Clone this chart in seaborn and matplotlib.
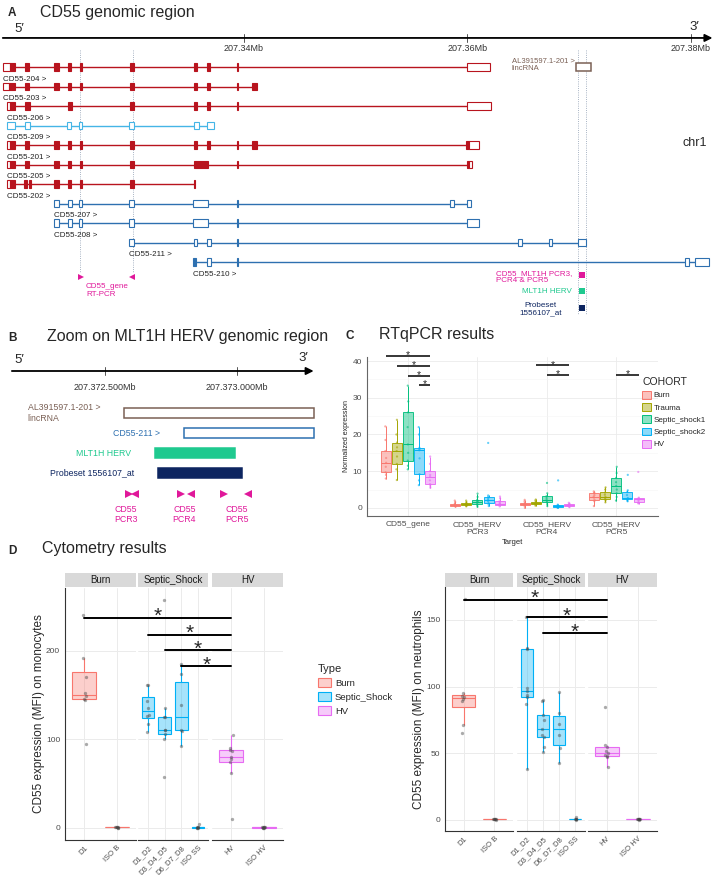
import matplotlib
matplotlib.use('Agg')
import matplotlib.pyplot as plt
import seaborn as sns
import pandas as pd
import numpy as np
from matplotlib.patches import Rectangle, Patch
from matplotlib.lines import Line2D
from matplotlib.colors import to_rgba

# ---------------- data ----------------
# Panel A: exons per transcript, kb past 207.30 Mb, (start, end, coding)
tx_names = ['CD55-204', 'CD55-203', 'CD55-206', 'CD55-209', 'CD55-201', 'CD55-205',
            'CD55-202', 'CD55-207', 'CD55-208', 'CD55-211', 'CD55-210']
tx_kind = ['red', 'red', 'red', 'sky', 'red', 'red', 'red', 'blue', 'blue', 'blue', 'blue']
tx_exons = [
    [(18.5, 19.1, 0), (19.1, 19.55, 1), (20.45, 20.8, 1), (23.05, 23.5, 1), (24.3, 24.55, 1), (25.35, 25.55, 1),
     (29.85, 30.2, 1), (35.55, 35.8, 1), (36.75, 36.95, 1), (39.4, 39.5, 1), (60.0, 62.05, 0)],
    [(18.5, 19.05, 0), (19.05, 19.55, 1), (20.45, 20.8, 1), (23.05, 23.5, 1), (24.3, 24.55, 1), (25.35, 25.55, 1),
     (29.85, 30.2, 1), (35.55, 35.8, 1), (36.75, 36.95, 1), (39.4, 39.5, 1), (40.75, 41.2, 1)],
    [(18.85, 19.1, 0), (19.1, 19.55, 1), (20.45, 20.85, 1), (24.3, 24.6, 1), (29.85, 30.2, 1), (35.55, 35.8, 1),
     (36.75, 36.95, 1), (39.4, 39.5, 1), (60.0, 62.1, 0)],
    [(18.85, 19.55, 0), (20.45, 20.85, 0), (24.2, 24.55, 0), (25.3, 25.5, 0), (29.75, 30.2, 0), (35.55, 36.0, 0),
     (36.75, 37.35, 0)],
    [(18.85, 19.1, 0), (19.1, 19.55, 1), (20.45, 20.8, 1), (23.05, 23.5, 1), (24.3, 24.55, 1), (25.35, 25.55, 1),
     (29.85, 30.2, 1), (35.55, 35.8, 1), (36.75, 36.95, 1), (39.4, 39.5, 1), (40.75, 41.2, 1), (59.9, 60.2, 1),
     (60.2, 61.05, 0)],
    [(18.85, 19.1, 0), (19.1, 19.55, 1), (20.45, 20.8, 1), (23.05, 23.5, 1), (24.3, 24.55, 1), (25.35, 25.55, 1),
     (29.85, 30.2, 1), (35.55, 36.85, 1), (39.4, 39.5, 1), (60.0, 60.15, 1), (60.15, 60.45, 0)],
    [(18.85, 19.1, 0), (19.1, 19.55, 1), (20.35, 20.6, 1), (20.8, 21.0, 1), (23.05, 23.5, 1), (24.3, 24.55, 1),
     (25.35, 25.55, 1), (29.85, 30.2, 1), (35.55, 35.65, 1)],
    [(23.05, 23.5, 0), (24.3, 24.6, 0), (25.3, 25.55, 0), (29.75, 30.2, 0), (35.5, 36.85, 0), (39.4, 39.5, 1),
     (58.5, 58.85, 0), (59.95, 60.35, 0)],
    [(23.05, 23.5, 0), (24.3, 24.6, 0), (25.3, 25.55, 0), (29.75, 30.2, 0), (35.5, 36.85, 0), (39.4, 39.5, 1),
     (59.95, 61.1, 0)],
    [(29.75, 30.2, 0), (35.55, 35.85, 0), (36.75, 37.1, 0), (39.4, 39.5, 1), (64.55, 64.9, 0), (67.35, 67.6, 0),
     (69.9, 70.65, 0)],
    [(35.5, 35.75, 1), (36.75, 37.1, 0), (39.4, 39.5, 1), (79.5, 79.85, 0), (80.4, 81.65, 0)],
]
a_ticks_kb = [40, 60, 80]
lnc_kb = (69.75, 71.05)
rtpcr_kb = [25.4, 30.1]
herv_kb = [69.9, 70.65]

# Panel B: bp past 207,372,000
b_ticks_bp = [500, 1000]
b_labels = ['AL391597.1-201 >\nlincRNA', 'CD55-211 >', 'MLT1H HERV', 'Probeset 1556107_at']
b_start = [572, 799, 689, 701]
b_end = [1292, 1292, 992, 1019]
pcr_fwd = [591, 786, 950]
pcr_rev = [612, 826, 1040]
pcr_names = ['CD55\nPCR3', 'CD55\nPCR4', 'CD55\nPCR5']

# Panel C: normalized expression, per target, cohort order below
cohorts = ['Burn', 'Trauma', 'Septic_shock1', 'Septic_shock2', 'HV']
targets = ['CD55_gene', 'CD55_HERV\nPCR3', 'CD55_HERV\nPCR4', 'CD55_HERV\nPCR5']
expr_gene = [[8.0, 9.0, 9.7, 11.2, 12.3, 13.6, 15.5, 18.5, 22.2],
             [7.6, 10.5, 12.0, 14.0, 15.5, 16.5, 17.8, 20.0, 24.0],
             [10.5, 11.5, 12.9, 15.0, 17.3, 22.0, 26.0, 29.0, 33.3],
             [6.2, 7.5, 9.2, 13.5, 15.7, 16.0, 16.4, 20.0, 22.0],
             [5.5, 6.0, 6.5, 7.5, 8.5, 9.0, 10.0, 12.0, 14.0]]
expr_pcr3 = [[0.3, 0.5, 0.6, 0.8, 0.9, 1.0, 1.2, 1.6, 2.0],
             [0.4, 0.6, 0.7, 0.9, 1.0, 1.1, 1.3, 1.6, 2.0],
             [0.3, 0.7, 1.0, 1.4, 1.7, 1.9, 2.2, 3.0, 3.9],
             [0.5, 1.0, 1.3, 1.8, 2.2, 2.6, 3.0, 3.4, 17.7],
             [0.4, 0.7, 0.9, 1.0, 1.2, 1.5, 1.8, 2.6, 3.1]]
expr_pcr4 = [[0.0, 0.5, 0.7, 0.9, 1.0, 1.2, 1.4, 1.8, 2.2],
             [0.6, 0.9, 1.0, 1.2, 1.4, 1.5, 1.7, 2.0, 2.3],
             [0.5, 1.0, 1.5, 1.9, 2.2, 2.7, 3.2, 4.0, 6.8],
             [0.0, 0.1, 0.2, 0.4, 0.5, 0.6, 0.7, 0.9, 7.5],
             [0.2, 0.4, 0.5, 0.7, 0.8, 0.9, 1.0, 1.2, 1.4]]
expr_pcr5 = [[0.5, 1.8, 2.2, 2.8, 3.1, 3.5, 4.0, 4.2, 4.5],
             [1.5, 2.0, 2.3, 2.7, 3.0, 3.6, 4.2, 5.0, 5.6],
             [2.0, 3.0, 4.0, 5.0, 6.0, 7.0, 8.2, 9.5, 11.2],
             [1.8, 2.0, 2.3, 2.5, 2.7, 3.5, 4.3, 4.8, 9.0],
             [1.2, 1.4, 1.5, 2.0, 2.3, 2.4, 2.6, 2.8, 9.8]]
# significance bars: (target index, from cohort, to cohort, height)
c_sig = [(0, 'Burn', 'HV', 41.4), (0, 'Trauma', 'HV', 38.7), (0, 'Septic_shock1', 'HV', 36.0),
         (0, 'Septic_shock2', 'HV', 33.5), (2, 'Trauma', 'HV', 38.9), (2, 'Septic_shock1', 'HV', 36.2),
         (3, 'Septic_shock1', 'HV', 36.2)]

# Panel D: CD55 MFI by cytometry
facets = ['Burn', 'Septic_Shock', 'HV']
facet_days = [['D1', 'ISO B'], ['D1_D2', 'D3_D4_D5', 'D6_D7_D8', 'ISO SS'], ['HV', 'ISO HV']]
mono_mfi = {
    'D1': [95, 144, 146, 149, 152, 171, 192, 240],
    'ISO B': [0.3, 0.6, 0.8, 1.0, 0.5, 0.7, 0.9],
    'D1_D2': [108, 117, 126, 128, 136, 143, 161, 161],
    'D3_D4_D5': [57, 101, 106, 111, 111, 125, 125, 135, 257],
    'D6_D7_D8': [92, 110, 111, 139, 174, 185],
    'ISO SS': [0.2, 0.5, 0.8, 1.0, 0.4, 4.0, 0.6],
    'HV': [10, 62, 75, 78, 80, 87, 88, 90, 105],
    'ISO HV': [0.3, 0.5, 0.7, 0.9, 0.6, 0.4, 0.8, 1.0],
}
neutro_mfi = {
    'D1': [65, 71.5, 89, 91, 92, 93, 95, 166],
    'ISO B': [0.3, 0.6, 0.8, 1.0, 0.5, 0.7, 0.9],
    'D1_D2': [38.5, 87, 92, 94, 97, 99, 128, 129, 152],
    'D3_D4_D5': [51, 55, 62, 64, 68, 75, 79, 89, 90],
    'D6_D7_D8': [43, 54, 64, 72, 80, 96],
    'ISO SS': [0.2, 0.5, 0.8, 2.5, 0.4, 0.6],
    'HV': [40, 47, 48, 49, 50, 52, 55, 56, 85],
    'ISO HV': [0.3, 0.5, 0.7, 0.9, 0.6, 0.4, 0.8, 1.0],
}
# (facet, day) -> HV, height
mono_sig = [((0, 'D1'), 237), ((1, 'D1_D2'), 218), ((1, 'D3_D4_D5'), 200.5), ((1, 'D6_D7_D8'), 182.5)]
neutro_sig = [((0, 'D1'), 165), ((1, 'D1_D2'), 152), ((1, 'D3_D4_D5'), 140)]

# ---------------- style ----------------
sns.set_theme(style='white')
plt.rcParams['font.family'] = ['Liberation Sans', 'DejaVu Sans']
np.random.seed(3)

red, sky, blue = '#b8141e', '#45b5e6', '#2e70b0'
tx_colors = {'red': red, 'sky': sky, 'blue': blue}
brown, magenta, green, navy = '#7a6055', '#e0189a', '#1fc98f', '#0d2560'
cohort_colors = dict(zip(cohorts, ['#F8766D', '#A3A500', '#00BF7D', '#00B0F6', '#E76BF3']))
type_colors = {'Burn': '#F8766D', 'Septic_Shock': '#00B0F6', 'HV': '#E76BF3'}
tick_grey = '#4d4d4d'

W, H = 713, 875
fig = plt.figure(figsize=(W / 100, H / 100), dpi=100)


def px_axes(x0, y0, x1, y1):
    return fig.add_axes([x0 / W, 1 - y1 / H, (x1 - x0) / W, (y1 - y0) / H])


def ftext(x, y, s, **kw):
    return fig.text(x / W, 1 - y / H, s, **kw)


# ---------------- A: CD55 genomic region ----------------
ftext(8, 13, 'A', fontsize=8.5, fontweight='bold', va='center')
ftext(40, 12, 'CD55 genomic region', fontsize=11.5, va='center')
ftext(14, 29, '5\u2032', fontsize=9.5, va='center')
ftext(689, 27, '3\u2032', fontsize=9.5, va='center')

ax_a = px_axes(0, 0, W, 330)
ax_a.set_xlim(18.2, 82.0)
ax_a.set_ylim((330 - 67) / 19.5, -67 / 19.5)
ax_a.axis('off')

ax_a.annotate('', xy=(81.95, -1.49), xytext=(18.45, -1.49),
              arrowprops=dict(arrowstyle='-|>', color='black', lw=1.3, mutation_scale=11, shrinkA=0, shrinkB=0))
for t in a_ticks_kb:
    ax_a.plot([t, t], [-1.68, -1.3], color='#555555', lw=0.7)
    ax_a.text(t, -0.97, f'{207.30 + t / 1000:.2f}Mb', ha='center', va='center', fontsize=6.5, color='#333333')

for x in rtpcr_kb:
    ax_a.plot([x, x], [-0.85, 10.5], color='#8a9ab0', lw=0.6, ls=':', zorder=0)
for x in herv_kb:
    ax_a.plot([x, x], [-0.85, 12.7], color='#8a9ab0', lw=0.6, ls=':', zorder=0)

for r, (name, kind, exons) in enumerate(zip(tx_names, tx_kind, tx_exons)):
    col = tx_colors[kind]
    ax_a.plot([exons[0][0], exons[-1][1]], [r, r], color=col, lw=1.0, zorder=1, solid_capstyle='butt')
    for s, e, coding in exons:
        ax_a.add_patch(Rectangle((s, r - 0.18), e - s, 0.36, facecolor=col if coding else 'white',
                                 edgecolor=col, lw=0.8, zorder=2))
    ax_a.text(exons[0][0] - 0.05, r + 0.62, name + ' >', fontsize=5.8, color='#222222', ha='left', va='center')

ax_a.add_patch(Rectangle((lnc_kb[0], -0.18), lnc_kb[1] - lnc_kb[0], 0.36, facecolor='white',
                         edgecolor=brown, lw=1.1, zorder=2))
ax_a.text(64.0, -0.48, 'AL391597.1-201 >\nlincRNA', fontsize=5.5, color=brown, ha='left', va='top', linespacing=1.15)
ax_a.text(79.3, 3.9, 'chr1', fontsize=9, ha='left', va='center')

ax_a.plot(rtpcr_kb[0] + 0.05, 10.77, marker='>', ms=5, color=magenta, mew=0)
ax_a.plot(rtpcr_kb[1] - 0.05, 10.77, marker='<', ms=5, color=magenta, mew=0)
ax_a.text(25.9, 11.1, 'CD55_gene\nRT-PCR', fontsize=5.8, color=magenta, ha='left', va='top', linespacing=1.1)

sq_x = sum(herv_kb) / 2
for yy, col in zip([10.67, 11.49, 12.36], [magenta, green, navy]):
    ax_a.plot(sq_x, yy, marker='s', ms=5, color=col, mew=0)
ax_a.text(69.4, 10.4, 'CD55_MLT1H PCR3,\nPCR4 & PCR5', fontsize=5.8, color=magenta, ha='right', va='top',
          multialignment='left', linespacing=1.1)
ax_a.text(69.4, 11.49, 'MLT1H HERV', fontsize=5.8, color=green, ha='right', va='center')
ax_a.text(66.6, 12.05, 'Probeset\n1556107_at', fontsize=5.8, color=navy, ha='center', va='top', linespacing=1.1)

# ---------------- B: zoom on MLT1H HERV ----------------
ftext(8, 338, 'B', fontsize=8.5, fontweight='bold', va='center')
ftext(47, 336, 'Zoom on MLT1H HERV genomic region', fontsize=11.5, va='center')
ftext(14, 360, '5\u2032', fontsize=9.5, va='center')
ftext(298, 358, '3\u2032', fontsize=9.5, va='center')

ax_b = px_axes(0, 330, 330, 535)
ax_b.set_xlim(102, 1352)
ax_b.set_ylim((535 - 413) / 20, (330 - 413) / 20)
ax_b.axis('off')
ax_b.annotate('', xy=(1290, -2.1), xytext=(147, -2.1),
              arrowprops=dict(arrowstyle='-|>', color='black', lw=1.3, mutation_scale=11, shrinkA=0, shrinkB=0))
for t in b_ticks_bp:
    ax_b.plot([t, t], [-2.28, -1.92], color='#555555', lw=0.7)
    ax_b.text(t, -1.25, f'{207372000 + t:,}'.replace(',', '.') + 'Mb', ha='center', va='center',
              fontsize=6.5, color='#333333')

b_edge = [brown, blue, green, navy]
b_fill = ['white', 'white', green, navy]
b_text = [brown, blue, green, navy]
for r, (lab, s, e) in enumerate(zip(b_labels, b_start, b_end)):
    ax_b.add_patch(Rectangle((s, r - 0.25), e - s, 0.5, facecolor=b_fill[r], edgecolor=b_edge[r], lw=1.1))
    ax_b.text(s - 90, r, lab, fontsize=6.3, color=b_text[r], ha='right', va='center', multialignment='left',
              linespacing=1.15)
for f, rv in zip(pcr_fwd, pcr_rev):
    ax_b.plot(f, 4.05, marker='>', ms=5.5, color=magenta, mew=0)
    ax_b.plot(rv, 4.05, marker='<', ms=5.5, color=magenta, mew=0)
for lab, xx in zip(pcr_names, [578, 800, 1000]):
    ax_b.text(xx, 4.6, lab, fontsize=6.3, color=magenta, ha='center', va='top', linespacing=1.15)

# ---------------- C: RTqPCR ----------------
ftext(346, 336, 'C', fontsize=8.5, fontweight='bold', va='center')
ftext(379, 334, 'RTqPCR results', fontsize=11.5, va='center')

rows = []
for t, groups in zip(targets, [expr_gene, expr_pcr3, expr_pcr4, expr_pcr5]):
    for c, vals in zip(cohorts, groups):
        for v in vals:
            rows.append((t, c, v))
df_c = pd.DataFrame(rows, columns=['Target', 'COHORT', 'Expression'])

ax_c = px_axes(367, 357, 658, 516)
for c in cohorts:
    n0 = len(ax_c.patches)
    sns.boxplot(data=df_c[df_c.COHORT == c], x='Target', y='Expression', hue='COHORT', hue_order=cohorts,
                order=targets, palette=cohort_colors, dodge=True, width=0.8, gap=0.1, linewidth=0.7,
                linecolor=cohort_colors[c], showfliers=False, showcaps=False, saturation=1, legend=False, ax=ax_c)
    for p in ax_c.patches[n0:]:
        p.set_facecolor(to_rgba(cohort_colors[c], 0.45))
        p.set_edgecolor(to_rgba(cohort_colors[c], 0.9))
sns.stripplot(data=df_c, x='Target', y='Expression', hue='COHORT', hue_order=cohorts, order=targets,
              palette=cohort_colors, dodge=True, jitter=0.035, size=1.6, alpha=0.6, legend=False, ax=ax_c)
ax_c.set_xlim(-0.59, 3.6)
ax_c.set_ylim(-2.2, 41.1)
ax_c.set_yticks([0, 10, 20, 30, 40])
ax_c.set_yticks([5, 15, 25, 35], minor=True)
ax_c.grid(True, which='major', color='#ebebeb', lw=0.6)
ax_c.grid(True, which='minor', axis='y', color='#f5f5f5', lw=0.4)
ax_c.set_axisbelow(True)
ax_c.tick_params(axis='both', which='major', labelsize=6, colors=tick_grey, length=2, width=0.5, pad=1.5)
ax_c.tick_params(which='minor', length=0)
for side in ['top', 'right']:
    ax_c.spines[side].set_visible(False)
for side in ['left', 'bottom']:
    ax_c.spines[side].set_color('#666666')
    ax_c.spines[side].set_linewidth(0.8)
ax_c.set_xlabel('Target', fontsize=5.5, labelpad=2)
ax_c.set_ylabel('Normalized expression', fontsize=5, labelpad=2)

slot = 0.8 / len(cohorts)
for ti, c0, c1, y in c_sig:
    x0 = ti + (cohorts.index(c0) - 2) * slot
    x1 = ti + (cohorts.index(c1) - 2) * slot
    ax_c.plot([x0, x1], [y, y], color='black', lw=1.1, clip_on=False, solid_capstyle='butt')
    ax_c.annotate('*', xy=((x0 + x1) / 2, y), xytext=(0, -1.8), textcoords='offset points',
                  ha='center', va='baseline', fontsize=7.5, annotation_clip=False)

c_handles = [Patch(facecolor=to_rgba(cohort_colors[c], 0.45), edgecolor=cohort_colors[c], lw=0.7) for c in cohorts]
fig.legend(c_handles, cohorts, title='COHORT', loc='upper left', bbox_to_anchor=(639 / W, 1 - 374 / H),
           frameon=False, fontsize=5.8, title_fontsize=7.5, handlelength=1.1, handleheight=1.1,
           labelspacing=0.45, handletextpad=0.3, borderaxespad=0, alignment='left')

# ---------------- D: cytometry ----------------
ftext(8, 551, 'D', fontsize=8.5, fontweight='bold', va='center')
ftext(42, 549, 'Cytometry results', fontsize=11.5, va='center')


def facet_panel(xs, y0, y1, values, ylim, yticks, ylabel):
    axes = []
    for k, (facet, days, (x0, x1)) in enumerate(zip(facets, facet_days, xs)):
        sub = pd.DataFrame([(d, v) for d in days for v in values[d]], columns=['Day', 'MFI'])
        ax = px_axes(x0, y0, x1, y1)
        col = type_colors[facet]
        sns.boxplot(data=sub, x='Day', y='MFI', order=days, color=col, linecolor=col, width=0.75,
                    linewidth=0.8, showfliers=False, showcaps=False, saturation=1, ax=ax)
        for p in ax.patches:
            p.set_facecolor(to_rgba(col, 0.35))
        sns.stripplot(data=sub, x='Day', y='MFI', order=days, color='#444444', alpha=0.45, size=2.4,
                      jitter=0.06, ax=ax)
        ax.set_xlim(-0.6, len(days) - 0.4)
        ax.set_ylim(*ylim)
        ax.set_yticks(yticks)
        ax.grid(True, color='#ebebeb', lw=0.7)
        ax.set_axisbelow(True)
        ax.set_xlabel('')
        ax.tick_params(axis='x', labelsize=5.5, colors=tick_grey, length=2, width=0.5, pad=1)
        for lbl in ax.get_xticklabels():
            lbl.set_rotation(45)
            lbl.set_ha('right')
            lbl.set_rotation_mode('anchor')
        for side in ['top', 'right', 'left']:
            ax.spines[side].set_visible(False)
        ax.spines['bottom'].set_color('#333333')
        ax.spines['bottom'].set_linewidth(0.8)
        if k == 0:
            ax.spines['left'].set_visible(True)
            ax.spines['left'].set_color('#333333')
            ax.spines['left'].set_linewidth(0.8)
            ax.tick_params(axis='y', labelsize=6, colors=tick_grey, length=2, width=0.5, pad=1.5)
            ax.set_ylabel(ylabel, fontsize=8.5, labelpad=0.5)
        else:
            ax.set_ylabel('')
            ax.tick_params(axis='y', labelleft=False, length=0)
        sax = px_axes(x0, 573, x1, 587)
        sax.set_facecolor('#d9d9d9')
        sax.set_xticks([])
        sax.set_yticks([])
        for sp in sax.spines.values():
            sp.set_visible(False)
        sax.text(0.5, 0.5, facet, transform=sax.transAxes, ha='center', va='center', fontsize=7, color='#1a1a1a')
        axes.append(ax)
    return axes


def fig_xy(ax, x, y):
    return fig.transFigure.inverted().transform(ax.transData.transform((x, y)))


def facet_sig(axes, sigs):
    hv_ax = axes[2]
    for (fi, day), y in sigs:
        ax0 = axes[fi]
        p0 = fig_xy(ax0, facet_days[fi].index(day), y)
        p1 = fig_xy(hv_ax, 0, y)
        fig.add_artist(Line2D([p0[0], p1[0]], [p0[1], p1[1]], transform=fig.transFigure, color='black', lw=1.4))
        fig.text((p0[0] + p1[0]) / 2, p0[1] - 4 / H, '*', ha='center', va='baseline', fontsize=15)


mono_axes = facet_panel([(65, 136), (138, 208), (212, 283)], 588, 840, mono_mfi, (-13.6, 271), [0, 100, 200],
                        'CD55 expression (MFI) on monocytes')
facet_sig(mono_axes, mono_sig)
neutro_axes = facet_panel([(445, 513), (517, 585), (588, 657)], 587, 831, neutro_mfi, (-8.25, 174.75),
                          [0, 50, 100, 150], 'CD55 expression (MFI) on neutrophils')
facet_sig(neutro_axes, neutro_sig)

d_handles = [Patch(facecolor=to_rgba(type_colors[f], 0.35), edgecolor=type_colors[f], lw=0.8) for f in facets]
fig.legend(d_handles, facets, title='Type', loc='upper left', bbox_to_anchor=(314 / W, 1 - 660 / H),
           frameon=False, fontsize=6.8, title_fontsize=8, handlelength=1.4, handleheight=1.1,
           labelspacing=0.45, handletextpad=0.4, borderaxespad=0, alignment='left')

fig.savefig('out.png', dpi=100)
